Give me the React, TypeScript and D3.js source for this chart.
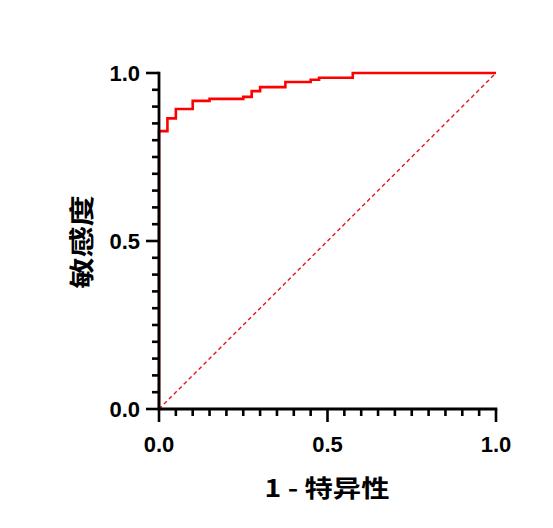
import React, { useEffect, useRef } from "react"
import * as d3 from "d3"

// ROC curve vertices (1 - specificity, sensitivity)
const fpr = [0, 0, 0.025, 0.05, 0.1, 0.15, 0.25, 0.275, 0.3, 0.375, 0.45, 0.475, 0.575, 1]
const sens = [0, 0.827, 0.865, 0.893, 0.917, 0.923, 0.929, 0.946, 0.958, 0.973, 0.98, 0.986, 1, 1]
const majorTicks = [0, 0.5, 1]
const tickLabels = ["0.0", "0.5", "1.0"]
const minorTicks = d3.range(0, 21).map(i => i * 0.05)

const W = 553
const H = 528
const left = 159
const right = 496
const top = 73
const bottom = 409

const App = () => {
  const ref = useRef<SVGSVGElement>(null)

  useEffect(() => {
    const svg = d3.select(ref.current)
    svg.selectAll("*").remove()

    const x = d3.scaleLinear().domain([0, 1]).range([left, right])
    const y = d3.scaleLinear().domain([0, 1]).range([bottom, top])
    const numFont = "'Liberation Sans', Arial, sans-serif"
    const cjkFont = "'Noto Sans CJK SC', 'Liberation Sans', sans-serif"

    // diagonal reference line
    svg.append("line")
      .attr("x1", x(0)).attr("y1", y(0))
      .attr("x2", x(1)).attr("y2", y(1))
      .attr("stroke", "#e8141c")
      .attr("stroke-width", 1.4)
      .attr("stroke-dasharray", "4,3")

    const pts = fpr.map((f, i) => [f, sens[i]] as [number, number])
    const line = d3.line<[number, number]>()
      .x(d => x(d[0]))
      .y(d => y(d[1]))
      .curve(d3.curveStepAfter)

    svg.append("path")
      .attr("d", line(pts))
      .attr("fill", "none")
      .attr("stroke", "#ff0000")
      .attr("stroke-width", 2.6)

    const isMajor = (d: number) => majorTicks.some(m => Math.abs(m - d) < 1e-9)

    // x axis
    const gx = svg.append("g")
    gx.selectAll("line.tick")
      .data(minorTicks)
      .enter()
      .append("line")
      .attr("x1", d => x(d)).attr("x2", d => x(d))
      .attr("y1", bottom).attr("y2", d => isMajor(d) ? bottom + 13 : bottom + 7)
      .attr("stroke", "black")
      .attr("stroke-width", 2.6)
    gx.append("line")
      .attr("x1", left - 1.3).attr("x2", right + 1.3)
      .attr("y1", bottom).attr("y2", bottom)
      .attr("stroke", "black")
      .attr("stroke-width", 2.8)
    gx.selectAll("text")
      .data(majorTicks)
      .enter()
      .append("text")
      .attr("x", d => x(d))
      .attr("y", 452)
      .attr("text-anchor", "middle")
      .attr("font-family", numFont)
      .attr("font-weight", "bold")
      .attr("font-size", 22)
      .text((d, i) => tickLabels[i])

    // y axis
    const gy = svg.append("g")
    gy.selectAll("line.tick")
      .data(minorTicks)
      .enter()
      .append("line")
      .attr("y1", d => y(d)).attr("y2", d => y(d))
      .attr("x1", left).attr("x2", d => isMajor(d) ? left - 13 : left - 7)
      .attr("stroke", "black")
      .attr("stroke-width", 2.6)
    gy.append("line")
      .attr("x1", left).attr("x2", left)
      .attr("y1", top - 1.3).attr("y2", bottom + 1.3)
      .attr("stroke", "black")
      .attr("stroke-width", 2.8)
    gy.selectAll("text")
      .data(majorTicks)
      .enter()
      .append("text")
      .attr("x", 140)
      .attr("y", d => y(d) + 8)
      .attr("text-anchor", "end")
      .attr("font-family", numFont)
      .attr("font-weight", "bold")
      .attr("font-size", 22)
      .text((d, i) => tickLabels[i])

    // titles
    svg.append("text")
      .attr("transform", "translate(327,497) scale(1.18,1)")
      .attr("text-anchor", "middle")
      .attr("font-family", cjkFont)
      .attr("font-weight", "bold")
      .attr("font-size", 24)
      .text("1 - 特异性")

    svg.append("text")
      .attr("transform", `translate(91,${(top + bottom) / 2 + 1}) rotate(-90) scale(1.25,1)`)
      .attr("text-anchor", "middle")
      .attr("font-family", cjkFont)
      .attr("font-weight", "bold")
      .attr("font-size", 25)
      .text("敏感度")
  }, [])

  return (
    <svg
      ref={ref}
      width={W}
      height={H}
      style={{ position: "absolute", left: 0, top: 0, background: "white" }}
    />
  )
}

export default App
